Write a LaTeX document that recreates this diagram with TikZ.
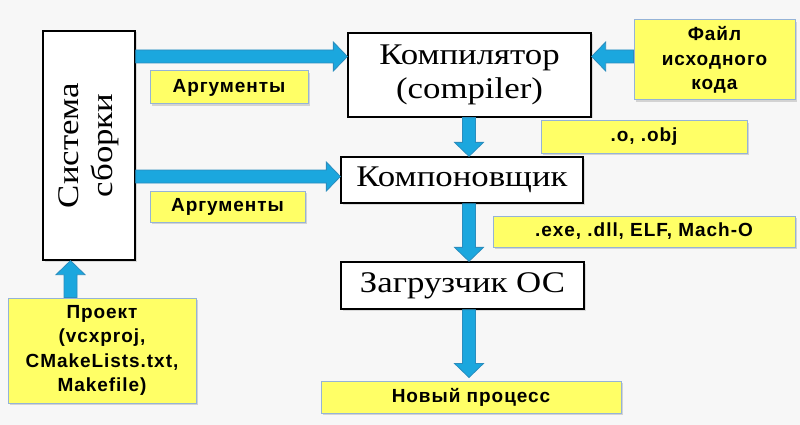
\documentclass[tikz,border=0pt]{standalone}
\usepackage{fontspec}
\setmainfont{Liberation Serif}[FakeStretch=1.16]
\newfontfamily\ysans[LetterSpace=5]{Liberation Sans}
\usetikzlibrary{calc,shadows}
\definecolor{bgc}{HTML}{F7F7F7}
\definecolor{yfill}{HTML}{FFFF66}
\definecolor{yline}{HTML}{95B3D7}
\definecolor{afill}{HTML}{1BA7DE}
\definecolor{aline}{HTML}{2A8DBE}
\tikzset{
  serifbig/.style={font=\fontsize{30}{34}\selectfont},
  whitebox/.style={draw=black, line width=1.3pt, fill=white, serifbig, align=center, inner sep=0pt,
    drop shadow={opacity=0.25, shadow xshift=1.5pt, shadow yshift=-1.5pt}},
  ybox/.style={draw=yline, line width=1pt, fill=yfill, font=\ysans\bfseries\fontsize{19}{24.5}\selectfont, align=center, inner sep=0pt,
    drop shadow={opacity=0.3, shadow xshift=2pt, shadow yshift=-2pt}},
  fatarrowstyle/.style={fill=afill, draw=aline, line width=0.8pt, line join=miter}
}
\newcommand\fatarrow[2]{%
  \coordinate (fa-h) at ($(#2)!14pt!(#1)$);
  \filldraw[fatarrowstyle] ($(#1)!6.5pt!90:(#2)$) -- ($(fa-h)!6.5pt!-90:(#1)$) -- ($(fa-h)!14.5pt!-90:(#1)$) -- (#2)
    -- ($(fa-h)!14.5pt!90:(#1)$) -- ($(fa-h)!6.5pt!90:(#1)$) -- ($(#1)!6.5pt!-90:(#2)$) -- cycle;
}
\begin{document}
\begin{tikzpicture}[x=1pt,y=-1pt]
\fill[bgc] (0,0) rectangle (800,425);
\useasboundingbox (0,0) rectangle (800,425);
% boxes
\node[whitebox, minimum width=92pt, minimum height=229pt] (sys) at (89,145.5) {};
\node[rotate=90, serifbig, align=center] (systxt) at (sys.center) {Система\\сборки};
\node[whitebox, minimum width=243pt, minimum height=84pt] (comp) at (469.5,75) {Компилятор\\(compiler)};
\node[whitebox, minimum width=242pt, minimum height=46pt] (link) at (462,180) {Компоновщик};
\node[whitebox, minimum width=243pt, minimum height=47pt] (load) at (462.5,285.5) {Загрузчик ОС};
% yellow labels
\node[ybox, minimum width=158pt, minimum height=33pt] (arg1) at (229,87.5) {Аргументы};
\node[ybox, minimum width=155pt, minimum height=31pt] (arg2) at (227.5,206.5) {Аргументы};
\node[ybox, minimum width=161pt, minimum height=80pt] (src) at (714.5,60) {Файл\\исходного\\кода};
\node[ybox, minimum width=206pt, minimum height=32pt] (obj) at (644,137) {.o, .obj};
\node[ybox, minimum width=302pt, minimum height=31pt] (exe) at (644,231.5) {.exe, .dll, ELF, Mach-O};
\node[ybox, minimum width=188pt, minimum height=105pt] (proj) at (102,350.5) {Проект\\(vcxproj,\\CMakeLists.txt,\\Makefile)};
\node[ybox, minimum width=300pt, minimum height=32pt] (proc) at (471,397) {Новый процесс};
% guide coordinates
\coordinate (r1) at (0,56.5);
\coordinate (r2) at (0,176.5);
\coordinate (c1) at (469,0);
\coordinate (c2) at (70.5,0);
\coordinate (a1s) at (sys.east |- r1);
\coordinate (a1e) at (comp.west |- r1);
\coordinate (a2s) at (sys.east |- r2);
\coordinate (a2e) at (link.west |- r2);
\coordinate (a3s) at (src.west |- r1);
\coordinate (a3e) at (comp.east |- r1);
\coordinate (a4s) at (comp.south -| c1);
\coordinate (a4e) at (link.north -| c1);
\coordinate (a5s) at (link.south -| c1);
\coordinate (a5e) at (load.north -| c1);
\coordinate (a6s) at (load.south -| c1);
\coordinate (a6e) at ($(proc.north -| c1)+(0,-3)$);
\coordinate (a7s) at (proj.north -| c2);
\coordinate (a7e) at (sys.south -| c2);
\fatarrow{a1s}{a1e}
\fatarrow{a2s}{a2e}
\fatarrow{a3s}{a3e}
\fatarrow{a4s}{a4e}
\fatarrow{a5s}{a5e}
\fatarrow{a6s}{a6e}
\fatarrow{a7s}{a7e}
\end{tikzpicture}
\end{document}
